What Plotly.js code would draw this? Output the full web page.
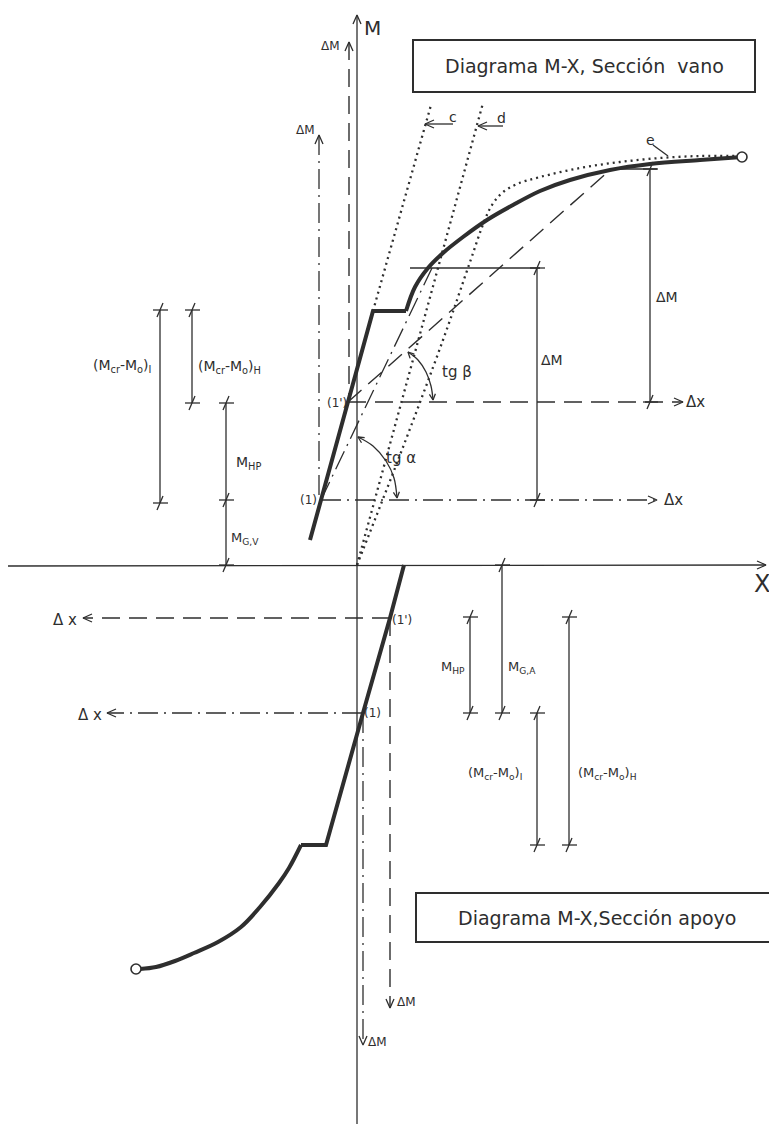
<!DOCTYPE html>
<html>
<head>
<meta charset="utf-8">
<script src="https://cdn.plot.ly/plotly-3.0.1.min.js"></script>
<style>html,body{margin:0;padding:0;background:#fff;}#chart{width:769px;height:1124px;}</style>
</head>
<body>
<div id="chart"></div>
<script>
// ---------- data (page units) ----------
// upper diagram: "Sección vano" (thick M-X curve): straight branch, then curved branch
const vanoLineX = [310, 321, 348, 373, 406];
const vanoLineY = [540, 500, 402, 311, 311];
const vanoCurveX = [406, 415, 428, 443, 463, 487, 513, 540, 570, 610, 650, 700, 742];
const vanoCurveY = [311, 287, 268, 253, 237, 220, 205, 191, 180, 170, 164, 160, 157];
// lower diagram: "Sección apoyo"
const apoyoLineX = [404, 390, 363, 326, 301];
const apoyoLineY = [565, 618, 713, 845, 845];
const apoyoCurveX = [301, 289, 279, 260, 241, 218, 194, 175, 156, 140];
const apoyoCurveY = [845, 868, 883, 907, 927, 942, 953, 961, 967, 969];
// dotted curve e and dotted straight lines c, d
const curveEX = [357, 400, 443, 470, 484, 492, 502, 517, 540, 580, 620, 660, 700, 738];
const curveEY = [565, 455, 340, 262, 222, 205, 193, 184, 177, 168, 162, 158, 156, 156];
const lineCX = [373, 431], lineCY = [311, 105];
const lineDX = [357, 483], lineDY = [565, 103];
// secant lines tg α (from point 1) and tg β (from point 1')
const tgAlphaX = [321, 432], tgAlphaY = [500, 268];
const tgBetaX = [348, 610], tgBetaY = [402, 170];
// angle arcs
const arcBetaX = [408, 418, 426, 431, 433], arcBetaY = [352, 360, 372, 386, 400];
const arcAlphaX = [358, 373, 386, 394, 397], arcAlphaY = [437, 446, 461, 478, 498];
// reference points (1) and (1')
const point1 = {up: [321, 500], low: [362, 713]};
const point1p = {up: [348, 402], low: [390, 618]};
// dimension lines: x, y start, y end
const dimX  = [160, 192, 226, 226, 537, 650, 470, 502, 537, 569];
const dimY0 = [310, 310, 403, 500, 268, 169, 617, 565, 713, 617];
const dimY1 = [503, 403, 500, 565, 500, 402, 713, 713, 845, 845];
// labels
const labelText = [
  "M", "ΔM", "ΔM", "c", "d", "e", "(1')", "(1)", "tg β", "tg α", "ΔM", "ΔM", "Δx", "Δx",
  "(M<sub>cr</sub>-M<sub>o</sub>)<sub>I</sub>", "(M<sub>cr</sub>-M<sub>o</sub>)<sub>H</sub>",
  "M<sub>HP</sub>", "M<sub>G,V</sub>", "X",
  "Δ x", "Δ x", "(1')", "(1)", "M<sub>HP</sub>", "M<sub>G,A</sub>",
  "(M<sub>cr</sub>-M<sub>o</sub>)<sub>I</sub>", "(M<sub>cr</sub>-M<sub>o</sub>)<sub>H</sub>",
  "ΔM", "ΔM"
];
const labelX = [372, 330, 305, 453, 501, 650, 337, 308, 457, 401, 552, 667, 695, 673,
  122, 229, 248, 245, 762,
  65, 90, 402, 372, 453, 522, 495, 607, 406, 377];
const labelY = [28, 46, 130, 117, 118, 140, 403, 500, 372, 458, 360, 297, 402, 500,
  366, 367, 463, 538, 584,
  620, 715, 620, 713, 667, 667, 773, 773, 1002, 1042];
const labelSize = [20, 12, 12, 14, 14, 14, 12, 12, 15, 15, 14, 14, 15, 15,
  14, 14, 14, 13, 24,
  15, 15, 12, 12, 13, 13, 13, 13, 12, 12];
// title boxes
const titleText = ["Diagrama M-X, Sección\u00a0\u00a0vano", "Diagrama M-X,Sección apoyo"];
const boxX0 = [413, 416], boxX1 = [755, 780], boxY0 = [40, 893], boxY1 = [92, 942];
// arrow tips: x, y, direction (dx, dy)
const arrowTipX = [357, 766, 349, 319, 683, 657, 83, 107, 390, 363, 425, 478, 433, 408, 397, 358];
const arrowTipY = [15, 565, 42, 135, 402, 500, 618, 713, 1008, 1045, 124, 126, 400, 352, 498, 437];
const arrowDirX = [0, 1, 0, 0, 1, 1, -1, -1, 0, 0, -1, -1, 0.1, -0.7, 0.1, -0.8];
const arrowDirY = [-1, 0, -1, -1, 0, 0, 0, 0, 1, 1, 0, 0, 1, -0.7, 1, -0.5];
// crossed tick marks on the dimension lines
const tickX = [160, 160, 192, 192, 226, 226, 226, 537, 537, 650, 650, 470, 470, 502, 502, 537, 537, 569, 569];
const tickY = [310, 503, 310, 403, 403, 500, 565, 268, 500, 169, 402, 617, 713, 565, 713, 713, 845, 617, 845];

// ---------- helpers ----------
const INK = "#2e2e2e";
const FONT = "DejaVu Sans, Liberation Sans, sans-serif";
function joinSegs(segs) {
  const x = [], y = [];
  segs.forEach((s, i) => {
    if (i) { x.push(null); y.push(null); }
    s[0].forEach(v => x.push(v)); s[1].forEach(v => y.push(v));
  });
  return {x, y};
}
function line(segs, width, dash, shape) {
  const d = joinSegs(segs);
  return {type: "scatter", mode: "lines", x: d.x, y: d.y, hoverinfo: "skip",
    line: {color: INK, width: width, dash: dash || "solid", shape: shape || "linear", smoothing: 1}};
}
function chevron(i, L, W) {
  const n = Math.hypot(arrowDirX[i], arrowDirY[i]);
  const dx = arrowDirX[i] / n, dy = arrowDirY[i] / n;
  const tx = arrowTipX[i], ty = arrowTipY[i];
  const bx = tx - L * dx, by = ty - L * dy;
  return [[bx - W * dy, tx, bx + W * dy], [by + W * dx, ty, by - W * dx]];
}
function tick(x, y) {
  return [[[x - 7, x + 8], [y, y]], [[x - 3, x + 3], [y + 7, y - 7]]];
}

// ---------- traces ----------
const thinSegs = [
  [[357, 357], [15, 1124]],
  [[8, 766], [566, 565]],
  [[410, 540], [268, 268]],
  [[610, 657], [169, 169]],
  [[425, 453], [124, 124]],
  [[478, 503], [126, 126]],
  [[653, 668], [145, 156]]
];
dimX.forEach((x, i) => thinSegs.push([[x, x], [dimY0[i], dimY1[i]]]));
tickX.forEach((x, i) => tick(x, tickY[i]).forEach(s => thinSegs.push(s)));
arrowTipX.forEach((_, i) => thinSegs.push(i >= 12 ? chevron(i, 6, 3) : chevron(i, 9, 4)));

const dashedSegs = [
  [[349, 349], [42, point1p.up[1]]],
  [[point1p.up[0], 683], [402, 402]],
  [tgBetaX, tgBetaY],
  [[point1p.low[0], 83], [618, 618]],
  [[point1p.low[0], point1p.low[0]], [618, 1008]]
];
const dashDotSegs = [
  [[319, 319], [135, point1.up[1]]],
  [[point1.up[0], 657], [500, 500]],
  [tgAlphaX, tgAlphaY],
  [[point1.low[0], 107], [713, 713]],
  [[363, 363], [713, 1045]]
];

const traces = [
  line(thinSegs, 1.3),
  line([[arcBetaX, arcBetaY], [arcAlphaX, arcAlphaY]], 1.3, "solid", "spline"),
  line(dashedSegs, 1.4, "18px,9px"),
  line(dashDotSegs, 1.3, "20px,6px,2px,6px"),
  line([[lineCX, lineCY], [lineDX, lineDY]], 2.3, "2px,4px"),
  line([[curveEX, curveEY]], 2.3, "2px,4px", "spline"),
  line([[vanoLineX, vanoLineY], [apoyoLineX, apoyoLineY]], 4),
  line([[vanoCurveX, vanoCurveY], [apoyoCurveX, apoyoCurveY]], 4, "solid", "spline"),
  {type: "scatter", mode: "markers", hoverinfo: "skip",
   x: [vanoCurveX[vanoCurveX.length - 1], apoyoCurveX[apoyoCurveX.length - 1] - 4],
   y: [vanoCurveY[vanoCurveY.length - 1], apoyoCurveY[apoyoCurveY.length - 1]],
   marker: {size: 10, color: "#fff", line: {color: INK, width: 1.6}}}
];

const annotations = labelText.map((t, i) => ({
  x: labelX[i], y: labelY[i], xref: "x", yref: "y", text: t, showarrow: false,
  xanchor: "center", yanchor: "middle",
  font: {family: FONT, size: labelSize[i], color: INK}
}));
titleText.forEach((t, i) => annotations.push({
  x: i === 0 ? (boxX0[i] + boxX1[i]) / 2 : 597, y: (boxY0[i] + boxY1[i]) / 2,
  xref: "x", yref: "y", text: t, showarrow: false, xanchor: "center", yanchor: "middle",
  font: {family: FONT, size: 19, color: INK}
}));
const shapes = titleText.map((_, i) => ({
  type: "rect", xref: "x", yref: "y", x0: boxX0[i], x1: boxX1[i], y0: boxY0[i], y1: boxY1[i],
  line: {color: INK, width: 2}
}));

const layout = {
  width: 769, height: 1124,
  margin: {l: 0, r: 0, t: 0, b: 0},
  paper_bgcolor: "#ffffff", plot_bgcolor: "#ffffff",
  showlegend: false,
  xaxis: {range: [0, 769], visible: false, fixedrange: true},
  yaxis: {range: [1124, 0], visible: false, fixedrange: true},
  annotations: annotations,
  shapes: shapes
};
Plotly.newPlot("chart", traces, layout, {staticPlot: true, displayModeBar: false});
</script>
</body>
</html>
